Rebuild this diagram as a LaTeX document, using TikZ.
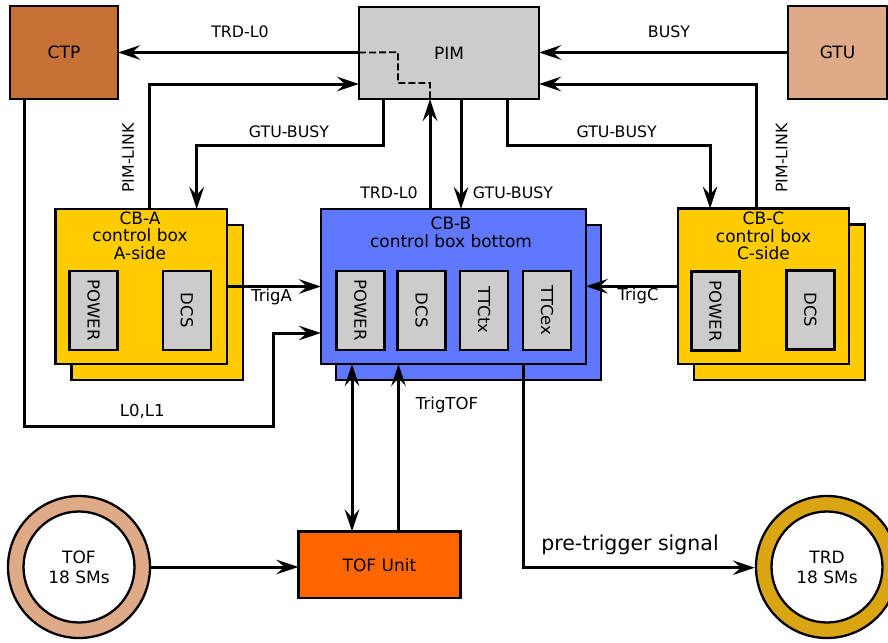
\documentclass[tikz,border=0pt]{standalone}
\usepackage{fontspec}
\setmainfont{DejaVu Sans}
\usetikzlibrary{arrows.meta}

\definecolor{ctpc}{HTML}{C87137}
\definecolor{gtuc}{HTML}{DEAA87}
\definecolor{pimc}{HTML}{CCCCCC}
\definecolor{cbyel}{HTML}{FFCC00}
\definecolor{cbblue}{HTML}{5F78FF}
\definecolor{tofunitc}{HTML}{FF6600}
\definecolor{tofring}{HTML}{DEAA87}
\definecolor{trdring}{HTML}{D9A512}

\begin{document}
\begin{tikzpicture}[x=1pt,y=-1pt,
  box/.style={draw=black, line width=2.3pt, inner sep=0pt, outer sep=0pt,
    font=\fontsize{17}{20}\selectfont},
  module/.style={box, fill=pimc, line width=2.6pt, rotate=-90,
    minimum width=79pt, minimum height=48pt, font=\fontsize{16.5}{18}\selectfont},
  cbtitle/.style={align=center, inner sep=0pt, font=\fontsize{17}{17.5}\selectfont},
  lbl/.style={inner sep=0pt, font=\fontsize{15.8}{18}\selectfont},
  lblm/.style={inner sep=0pt, font=\fontsize{16.5}{18}\selectfont},
  ring/.style={circle, draw=black, line width=2.3pt, inner sep=0pt, minimum size=142pt},
  hole/.style={circle, draw=black, line width=2.3pt, fill=white, inner sep=0pt,
    minimum size=111pt, align=center, font=\fontsize{17}{20}\selectfont},
  arrowhead/.tip={Stealth[length=22pt,width=14.5pt,inset=8pt]},
  conn/.style={line width=3pt, -arrowhead},
  bothconn/.style={line width=3pt, arrowhead-arrowhead}
]
\useasboundingbox (0,0) rectangle (888,642);

% ---- top row: CTP, PIM, GTU
\node[box, fill=ctpc, minimum width=108pt, minimum height=93pt] (ctp) at (64,52.5) {CTP};
\node[box, fill=pimc, minimum width=180pt, minimum height=92pt] (pim) at (449,53) {PIM};
\node[box, fill=gtuc, minimum width=99pt, minimum height=93pt] (gtu) at (837.5,52.5) {GTU};

% ---- control boxes (back plate first, front plate on top)
\node[box, fill=cbyel, minimum width=171.5pt, minimum height=155pt] (cbaback) at (157.2,302.5) {};
\node[box, fill=cbyel, minimum width=171.5pt, minimum height=155pt] (cba) at (141.2,286.5) {};
\node[cbtitle] (cbat) at (140,235.5) {CB-A\\control box\\A-side};
\node[module] (cbapow) at (93.6,310.3) {POWER};
\node[module] (cbadcs) at (187,310.3) {DCS};

\node[box, fill=cbblue, minimum width=264.7pt, minimum height=155pt] (cbbback) at (468.3,302.5) {};
\node[box, fill=cbblue, minimum width=264.7pt, minimum height=155pt] (cbb) at (453.3,286.5) {};
\node[cbtitle] (cbbt) at (451,232.5) {CB-B\\control box bottom};
\node[module] (cbbpow) at (360.3,310.3) {POWER};
\node[module] (cbbdcs) at (421.7,310.3) {DCS};
\node[module] (cbbttx) at (484,310.3) {TTCtx};
\node[module] (cbbtex) at (547,310.3) {TTCex};

\node[box, fill=cbyel, minimum width=171pt, minimum height=155.5pt] (cbcback) at (779.5,302.3) {};
\node[box, fill=cbyel, minimum width=171pt, minimum height=155.5pt] (cbc) at (763.5,286.3) {};
\node[cbtitle] (cbct) at (763.5,236) {CB-C\\control box\\C-side};
\node[module] (cbcpow) at (715.3,311.2) {POWER};
\node[module] (cbcdcs) at (810.3,309.8) {DCS};

% ---- bottom row: TOF ring, TOF unit, TRD ring
\node[ring, fill=tofring] (tof) at (79,567) {};
\node[hole] (tofin) at (tof) {TOF\\18 SMs};
\node[box, fill=tofunitc, minimum width=162pt, minimum height=66.5pt] (tofu) at (379.4,564.7) {TOF Unit};
\node[ring, fill=trdring] (trd) at (827,567) {};
\node[hole] (trdin) at (trd) {TRD\\18 SMs};

% ---- routing points
\coordinate (pla) at (149.7,84);
\coordinate (plc) at (756.7,84);
\coordinate (gba1) at (383.3,145.7);
\coordinate (gba2) at (196.7,145.7);
\coordinate (gbc1) at (507.7,145.7);
\coordinate (gbc2) at (710,145.7);
\coordinate (trdl0) at (430,0);
\coordinate (gbb) at (461,0);
\coordinate (dsh1) at (398,52.3);
\coordinate (dsh2) at (398,83);
\coordinate (dsh3) at (430,83);
\coordinate (llow) at (24,426.7);
\coordinate (lup) at (273.8,333);
\coordinate (bidir) at (352,0);
\coordinate (trigtof) at (398.5,0);
\coordinate (pretrig) at (523.5,567.7);

% ---- connectors
\draw[conn] (pim.west |- ctp.east) -- (ctp.east);
\draw[conn] (gtu.west) -- (gtu.west -| pim.east);
\draw[conn] (pla |- cba.north) -- (pla) -- (pla -| pim.west);
\draw[conn] (plc |- cbc.north) -- (plc) -- (plc -| pim.east);
\draw[conn] (gba1 |- pim.south) -- (gba1) -- (gba2) -- (gba2 |- cba.north);
\draw[conn] (gbc1 |- pim.south) -- (gbc1) -- (gbc2) -- (gbc2 |- cbc.north);
\draw[conn] (trdl0 |- cbb.north) -- (trdl0 |- pim.south);
\draw[conn] (gbb |- pim.south) -- (gbb |- cbb.north);
\draw[line width=1.8pt, dash pattern=on 7pt off 3pt] (pim.west |- ctp.east) -- (dsh1) -- (dsh2) -- (dsh3) -- (dsh3 |- pim.south);
\draw[conn] (cba.east) -- (cba.east -| cbb.west);
\draw[conn] (cbc.west) -- (cbc.west -| cbb.east);
\draw[conn] (llow |- ctp.south) -- (llow) -- (llow -| lup) -- (lup) -- (lup -| cbb.west);
\draw[bothconn] (bidir |- cbb.south) -- (bidir |- tofu.north);
\draw[conn] (trigtof |- tofu.north) -- (trigtof |- cbb.south);
\draw[conn] (pretrig |- cbb.south) -- (pretrig) -- (pretrig -| trd.west);
\draw[conn] (tof.east) -- (tof.east -| tofu.west);

% ---- connector labels
\node[lbl] (l-trdl0a) at (240,31.7) {TRD-L0};
\node[lbl] (l-busy) at (669,31.7) {BUSY};
\node[lbl] (l-gba) at (289,131.7) {GTU-BUSY};
\node[lbl] (l-gbc) at (616.7,131.7) {GTU-BUSY};
\node[lbl, rotate=90] (l-pla) at (128,158) {PIM-LINK};
\node[lbl, rotate=90] (l-plc) at (781.7,158) {PIM-LINK};
\node[lbl] (l-trdl0b) at (389,193) {TRD-L0};
\node[lbl] (l-gbb) at (513,193) {GTU-BUSY};
\node[lblm] (l-triga) at (271.5,296.7) {TrigA};
\node[lblm] (l-trigc) at (638,296) {TrigC};
\node[lblm] (l-l0l1) at (142.3,411) {L0,L1};
\node[lblm] (l-trigtof) at (447,405) {TrigTOF};
\node[inner sep=0pt, font=\fontsize{20.5}{24}\selectfont] (l-pre) at (630,545) {pre-trigger signal};
\end{tikzpicture}
\end{document}
